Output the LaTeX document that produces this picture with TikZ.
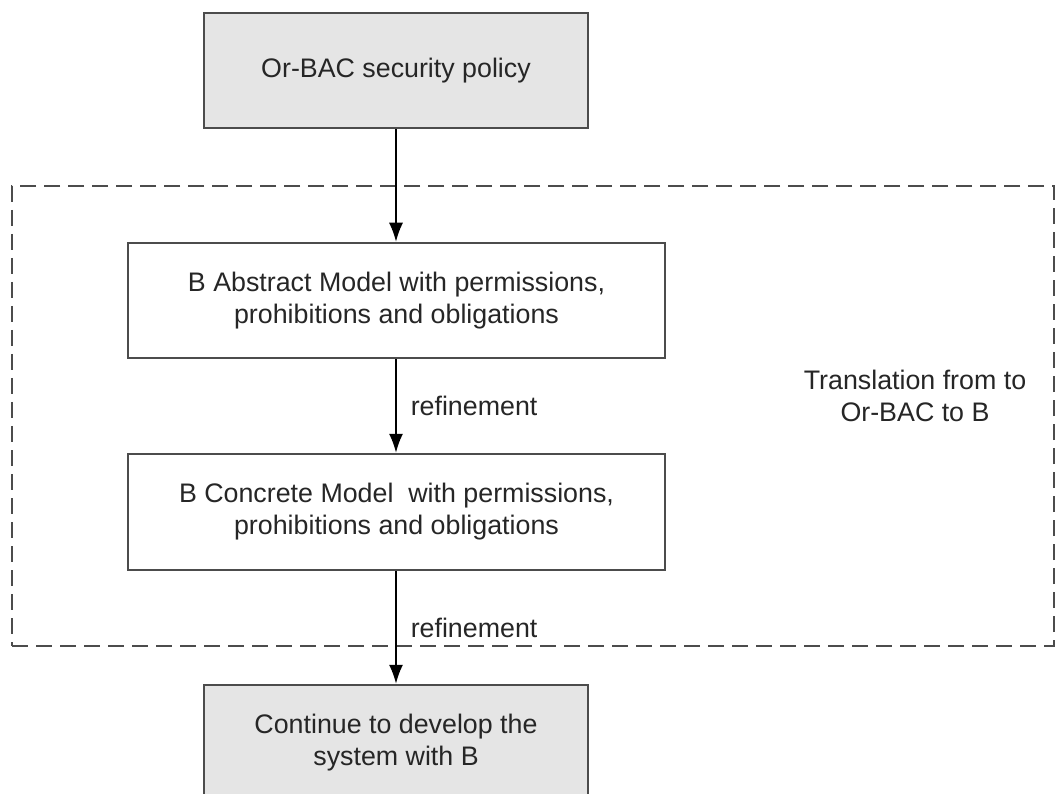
\documentclass[tikz,border=0pt]{standalone}
\usepackage{fontspec}
\setmainfont{Liberation Sans}
\usetikzlibrary{arrows.meta}
\begin{document}
\begin{tikzpicture}[x=1pt,y=-1pt,
  txt/.style={text=black!85, font=\fontsize{26.8}{32}\selectfont, align=center},
  stepbox/.style={txt, draw=black!70, line width=2.5pt, inner sep=0pt},
  shaded/.style={stepbox, fill=black!10},
  frame/.style={draw=black!70, line width=2.2pt, dash pattern=on 16pt off 8pt, inner sep=0pt},
  flow/.style={draw=black, line width=1.5pt, -{Latex[length=19pt,width=14pt]}},
  lbl/.style={txt, anchor=west, inner sep=0pt, xshift=14pt}]
  \useasboundingbox (0,0) rectangle (1058,794);
  \clip (0,0) rectangle (1058,794);
  \fill[white] (0,0) rectangle (1058,794);

  % dashed frame around the B models
  \node[frame, minimum width=1042pt, minimum height=460pt] (group) at (533,416) {};
  \node[txt] (trans) at (915,396) {Translation from to\\Or-BAC to B};

  % boxes
  \node[shaded, minimum width=384pt, minimum height=115pt] (policy) at (396,70.5) {Or-BAC security policy};
  \node[stepbox, fill=white, minimum width=537pt, minimum height=115pt] (abstract) at (396.5,300.5)
    {B Abstract Model with permissions,\\prohibitions and obligations};
  \node[stepbox, fill=white, minimum width=537pt, minimum height=116pt] (concrete) at (396.5,512)
    {B Concrete Model\ \ with permissions,\\prohibitions and obligations};
  \node[shaded, minimum width=384pt, minimum height=115pt] (develop) at (396,742.5)
    {Continue to develop the\\system with B};

  % connectors
  \draw[flow] (policy.south) -- (policy.south |- abstract.north);
  \draw[flow] (abstract.south -| policy.south) -- node[lbl] (ref1) {refinement} (policy.south |- concrete.north);
  \draw[flow] (concrete.south -| policy.south) -- node[lbl] (ref2) {refinement} (develop.north);
\end{tikzpicture}
\end{document}
